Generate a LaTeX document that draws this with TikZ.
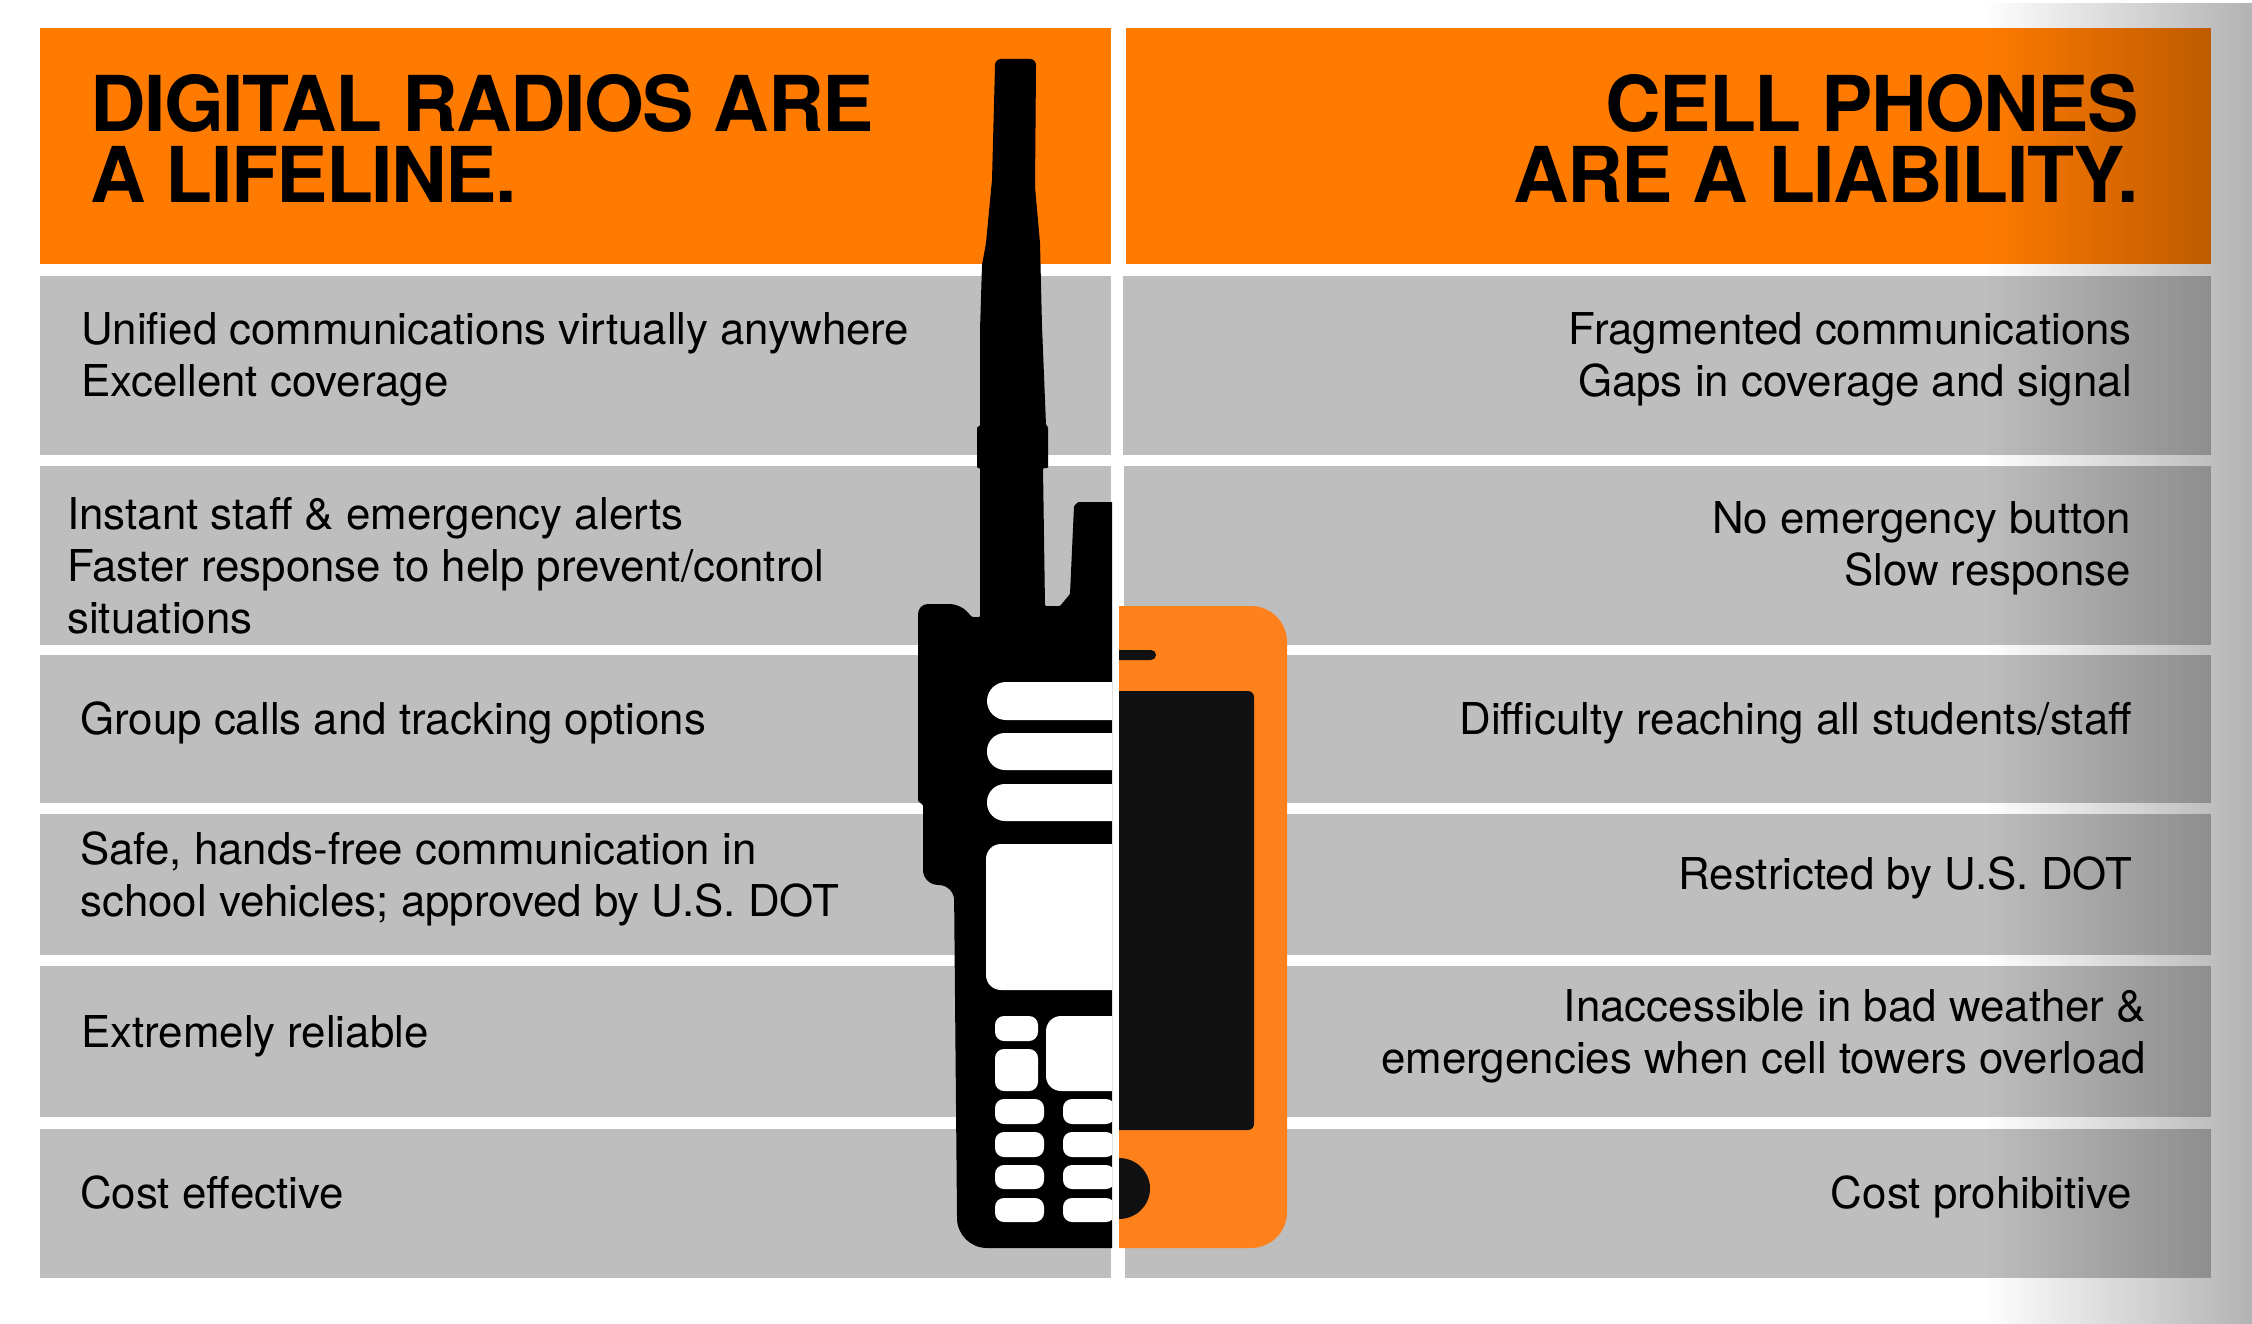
\documentclass[tikz,border=0pt]{standalone}
\usepackage{fontspec}
\setmainfont{TeX Gyre Heros}
\usetikzlibrary{fadings}
\definecolor{bandgray}{HTML}{BEBEBE}
\definecolor{headorange}{HTML}{FF7B00}
\definecolor{phoneorange}{HTML}{FF811C}
\definecolor{phoneblack}{HTML}{111111}
\tikzfading[name=edgefade, left color=transparent!100, middle color=transparent!94, right color=transparent!70]
\tikzset{
  band/.style={fill=bandgray},
  head/.style={fill=headorange},
  title/.style={inner sep=0pt, font=\fontsize{77}{71}\selectfont\bfseries\addfontfeatures{LetterSpace=-2}},
  txtleft/.style={inner sep=0pt, anchor=base west, align=left, font=\fontsize{43.85}{52}\selectfont},
  txtright/.style={inner sep=0pt, anchor=base east, align=right, font=\fontsize{43.85}{52}\selectfont},
  hole/.style={fill=white, rounded corners=#1},
  hole/.default=9pt
}
\begin{document}
\begin{tikzpicture}[x=1pt, y=-1pt]
  \useasboundingbox (0,0) rectangle (2252,1324);
  \fill[head] (40,28) rectangle (1111,264);
  \fill[head] (1126,28) rectangle (2211,264);
  \foreach \top/\bot/\rstart in {276/455/1123, 466/645/1124, 655/803/1124, 814/955/1124, 966/1117/1124, 1129/1278/1125} {
    \fill[band] (40,\top) rectangle (1111,\bot);
    \fill[band] (\rstart,\top) rectangle (2211,\bot);
  }
  \fill[black, path fading=edgefade] (1983,0) rectangle (2252,1324);
  \fill[black, rounded corners=1pt]
    (1112,502) -- (1078,502) -- (1074,506) -- (1070,594) -- (1060,606) -- (1045,606)
    -- (1043,468) -- (1048,468) -- (1048,427) -- (1046,425) -- (1042,326) -- (1040,243)
    -- (1035,187) -- (1036,66) [rounded corners=6pt] -- (1036,59) -- (995,59) [rounded corners=1pt] -- (995,66)
    -- (992,180) -- (986,243) -- (982,265) -- (980,330) -- (980,426) -- (977,427)
    -- (977,468) -- (980,468) -- (980,617) -- (972,617)
    [rounded corners=10pt] -- (960,604) -- (918,604) [rounded corners=1pt] -- (918,801) -- (923,805)
    [rounded corners=14pt] -- (923,884) -- (954,886) [rounded corners=1pt]
    -- (957,1216) [rounded corners=30pt] -- (957,1248) [sharp corners] -- (1112,1248) -- cycle;
  \begin{scope}
    \clip (900,600) rectangle (1112,1260);
    \fill[hole=19pt] (987,682) rectangle (1140,720);
    \fill[hole=18pt] (987,733) rectangle (1140,770);
    \fill[hole=18pt] (987,784) rectangle (1140,821);
    \fill[hole=15pt] (986,844) rectangle (1140,990);
    \fill[hole] (995,1016) rectangle (1038,1041);
    \fill[hole] (995,1049) rectangle (1038,1091);
    \fill[hole=15pt] (1046,1016) rectangle (1140,1091);
    \foreach \top/\bot in {1099/1124, 1132/1157, 1165/1189, 1198/1222} {
      \fill[hole] (995,\top) rectangle (1044,\bot);
      \fill[hole] (1063,\top) rectangle (1115,\bot);
    }
  \end{scope}
  \begin{scope}
    \clip (1119,600) rectangle (1300,1260);
    \fill[phoneorange, rounded corners=36pt] (1060,606) rectangle (1287,1248);
    \fill[phoneblack, rounded corners=5pt] (1100,650) rectangle (1156,660);
    \fill[phoneblack, rounded corners=6pt] (1100,691) rectangle (1254,1130);
    \fill[phoneblack] (1119,1188.5) ellipse [x radius=31, y radius=30.5];
  \end{scope}
  \node[title, anchor=base west, align=left] (radiohead) at (90,203) {DIGITAL RADIOS ARE\\A LIFELINE.};
  \node[title, anchor=base east, align=right] (cellhead) at (2139,203) {CELL PHONES\\ARE A LIABILITY.};
  \node[txtleft] (radioa) at (81,396) {Unified communications virtually anywhere\\Excellent coverage};
  \node[txtleft] (radiob) at (67,633) {Instant staff \& emergency alerts\\Faster response to help prevent/control\\situations};
  \node[txtleft] (radioc) at (80,734) {Group calls and tracking options};
  \node[txtleft] (radiod) at (80,916) {Safe, hands-free communication in\\school vehicles; approved by U.S. DOT};
  \node[txtleft] (radioe) at (81,1047) {Extremely reliable};
  \node[txtleft] (radiof) at (80,1208) {Cost effective};
  \node[txtright] (cella) at (2132,396) {Fragmented communications\\Gaps in coverage and signal};
  \node[txtright] (cellb) at (2131,585) {No emergency button\\Slow response};
  \node[txtright] (cellc) at (2132,734) {Difficulty reaching all students/staff};
  \node[txtright] (celld) at (2132,889) {Restricted by U.S. DOT};
  \node[txtright] (celle) at (2146,1073) {Inaccessible in bad weather \&\\emergencies when cell towers overload};
  \node[txtright] (cellf) at (2132,1208) {Cost prohibitive};
\end{tikzpicture}
\end{document}
